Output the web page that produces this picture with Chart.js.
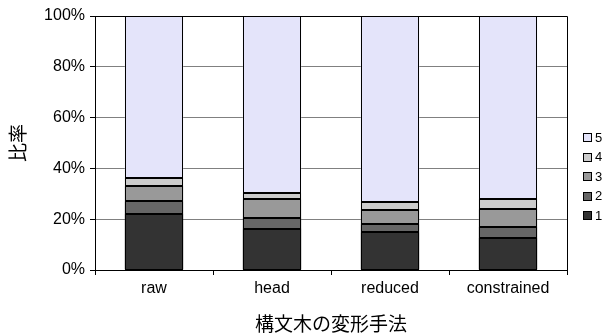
<!DOCTYPE html>
<html>
<head>
<meta charset="utf-8">
<script src="https://cdn.jsdelivr.net/npm/chart.js@4/dist/chart.umd.min.js"></script>
<style>
  html, body { margin: 0; padding: 0; background: #fff; }
  #wrap { width: 614px; height: 336px; position: relative; }
</style>
</head>
<body>
<div id="wrap"><canvas id="ratioChart"></canvas></div>
<script>
// categories and stacked shares (%)
const methods = ['raw', 'head', 'reduced', 'constrained'];
const seriesNames = ['1', '2', '3', '4', '5'];
const share1 = [22.0, 16.3, 14.8, 12.6];
const share2 = [5.0, 4.2, 3.2, 4.3];
const share3 = [6.0, 7.3, 5.8, 7.0];
const share4 = [3.2, 2.4, 3.1, 4.1];
const share5 = [63.8, 69.8, 73.1, 72.0];
const yTicks = [0, 20, 40, 60, 80, 100];
const fills = ['#333333', '#666666', '#999999', '#cccccc', '#e4e4fa'];

const shares = [share1, share2, share3, share4, share5];

const labelFont = "'Liberation Sans', Arial, sans-serif";
const cjkFont = "'Noto Sans CJK JP', sans-serif";

// crisp 1px outlines around every bar segment, taken from the bar elements
const outlines = {
    id: 'outlines',
    afterDatasetsDraw(chart) {
        const { ctx } = chart;
        ctx.save();
        ctx.strokeStyle = '#000';
        ctx.lineWidth = 1;
        chart.data.datasets.forEach((ds, i) => {
            chart.getDatasetMeta(i).data.forEach(bar => {
                const p = bar.getProps(['x', 'y', 'base', 'width'], true);
                const l = Math.round(p.x - p.width / 2) + 0.5;
                const r = Math.round(p.x + p.width / 2) - 0.5;
                const t = Math.round(p.y) + 0.5;
                const b = Math.round(p.base) - 0.5;
                ctx.strokeRect(l, t, r - l, b - t);
            });
        });
        ctx.restore();
    }
};

// frame on top/right of the plot area
const frame = {
    id: 'frame',
    afterDatasetsDraw(chart) {
        const { ctx, chartArea: a } = chart;
        ctx.save();
        ctx.strokeStyle = '#000';
        ctx.lineWidth = 1;
        ctx.beginPath();
        ctx.moveTo(a.left, Math.round(a.top) + 0.5);
        ctx.lineTo(Math.round(a.right) + 0.5, Math.round(a.top) + 0.5);
        ctx.lineTo(Math.round(a.right) + 0.5, a.bottom);
        ctx.stroke();
        ctx.restore();
    }
};

// legend on the right, 5 at the top
const sideLegend = {
    id: 'sideLegend',
    afterDraw(chart) {
        const { ctx } = chart;
        const sets = chart.data.datasets;
        ctx.save();
        ctx.font = '13px ' + labelFont;
        ctx.textBaseline = 'middle';
        for (let i = sets.length - 1, row = 0; i >= 0; i--, row++) {
            const y = 137 + row * 19.6;
            ctx.fillStyle = sets[i].backgroundColor;
            ctx.fillRect(583.5, Math.round(y - 4) + 0.5, 8, 8);
            ctx.strokeStyle = '#000';
            ctx.lineWidth = 1;
            ctx.strokeRect(583.5, Math.round(y - 4) + 0.5, 8, 8);
            ctx.fillStyle = '#000';
            ctx.fillText(sets[i].label, 595, y + 1);
        }
        ctx.restore();
    }
};

const ctx = document.getElementById('ratioChart').getContext('2d');
const chart = new Chart(ctx, {
    type: 'bar',
    data: {
        labels: methods,
        datasets: seriesNames.map((name, i) => ({
            label: name,
            data: shares[i],
            backgroundColor: fills[i],
            borderWidth: 0,
            barPercentage: 0.495,
            categoryPercentage: 1
        }))
    },
    options: {
        responsive: true,
        maintainAspectRatio: false,
        animation: false,
        layout: {
            padding: { left: 0, right: 47, top: 16, bottom: 0 }
        },
        plugins: {
            legend: { display: false },
            tooltip: { enabled: false }
        },
        scales: {
            x: {
                stacked: true,
                afterFit: (scale) => { scale.height = 66; },
                grid: {
                    offset: true,
                    drawOnChartArea: false,
                    tickLength: 5,
                    tickColor: '#000'
                },
                border: { color: '#000', width: 1 },
                ticks: {
                    color: '#000',
                    padding: 4,
                    font: { family: labelFont, size: 16 }
                },
                title: {
                    display: true,
                    text: '構文木の変形手法',
                    color: '#000',
                    padding: { top: 0, bottom: 1 },
                    font: { family: cjkFont, size: 19 }
                }
            },
            y: {
                stacked: true,
                min: 0,
                max: 100,
                afterFit: (scale) => { scale.width = 95; },
                afterBuildTicks: (scale) => {
                    scale.ticks = yTicks.map(v => ({ value: v }));
                },
                grid: {
                    color: (c) => (c.tick && c.tick.value === 0 ? '#000' : '#808080'),
                    lineWidth: 1,
                    tickLength: 5,
                    tickColor: '#000'
                },
                border: { color: '#000', width: 1 },
                ticks: {
                    color: '#000',
                    padding: 5,
                    font: { family: labelFont, size: 16 },
                    callback: (v) => v + '%'
                },
                title: {
                    display: true,
                    text: '比率',
                    color: '#000',
                    padding: { top: 6, bottom: 0 },
                    font: { family: cjkFont, size: 19 }
                }
            }
        }
    },
    plugins: [outlines, frame, sideLegend]
});
</script>
</body>
</html>
